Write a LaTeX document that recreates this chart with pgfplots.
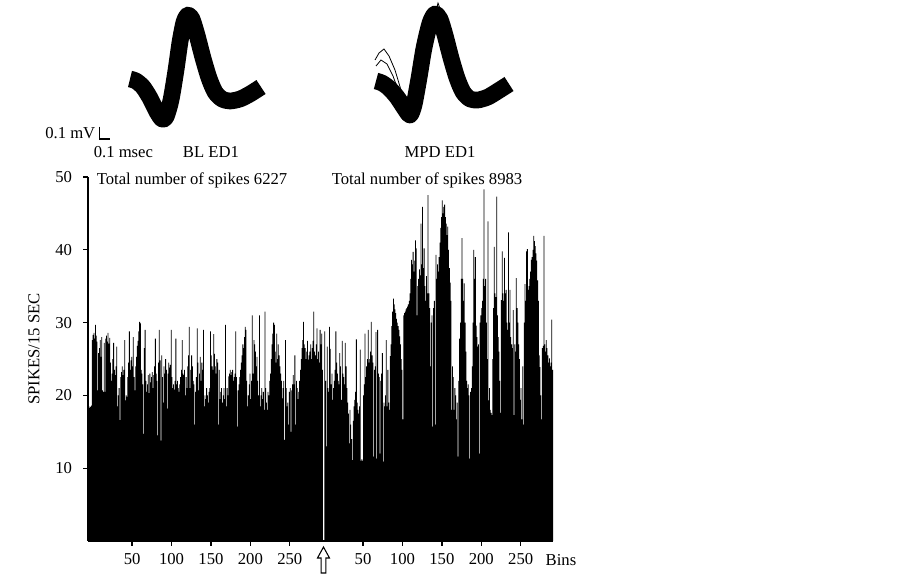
\documentclass[border=0pt]{standalone}
\usepackage{fontspec}
\setmainfont{Liberation Serif}
\usepackage{pgfplots}
\usepackage{pgfplotstable}
\pgfplotsset{compat=1.18}
\newcommand\f{\fontsize{12.5}{15}\selectfont}

% spikes per 15 s bin: baseline (299 bins), injection (0), MPD (290 bins), closing value
\pgfplotstableread[header=false,row sep=\\]{
18.4\\18.3\\18.5\\18.4\\18.6\\27.6\\28.3\\28.6\\27.8\\29.7\\
28.2\\27.4\\20.7\\25.8\\26.5\\27.6\\25.3\\28.0\\20.7\\20.5\\
27.2\\20.5\\27.8\\28.2\\27.4\\28.6\\27.1\\27.9\\24.5\\22.0\\
23.0\\25.0\\27.2\\23.5\\22.8\\24.0\\26.7\\18.5\\20.0\\21.0\\
16.6\\22.5\\23.2\\24.0\\22.8\\23.5\\27.6\\19.3\\20.0\\19.8\\
22.5\\24.5\\28.8\\23.5\\24.8\\25.3\\24.0\\28.0\\22.5\\20.7\\
24.0\\25.3\\26.8\\27.5\\28.8\\30.1\\29.9\\23.5\\23.0\\21.5\\
14.7\\26.5\\29.0\\22.0\\20.5\\21.5\\22.8\\20.3\\23.0\\21.8\\
22.5\\23.2\\21.0\\22.8\\24.0\\27.8\\23.0\\22.0\\14.5\\24.5\\
29.0\\24.8\\13.8\\25.5\\22.5\\19.0\\24.0\\23.0\\25.0\\23.5\\
18.2\\23.0\\24.5\\23.8\\24.2\\29.0\\22.5\\21.0\\21.5\\20.8\\
22.0\\27.8\\21.5\\22.0\\21.0\\20.5\\21.5\\22.5\\23.5\\27.6\\
23.0\\22.8\\23.5\\20.0\\22.5\\21.0\\24.0\\25.5\\29.4\\21.0\\
23.5\\25.5\\24.0\\22.0\\21.5\\16.0\\20.5\\22.5\\29.2\\24.5\\
20.7\\23.0\\25.3\\22.0\\24.5\\23.5\\29.0\\18.5\\20.0\\19.5\\
21.0\\20.0\\19.0\\20.5\\21.0\\28.8\\25.5\\24.0\\23.5\\28.4\\
25.7\\24.0\\23.0\\25.0\\24.5\\16.0\\23.5\\19.5\\20.5\\21.0\\
19.0\\20.0\\21.0\\19.5\\29.7\\18.5\\21.0\\20.0\\22.6\\23.0\\
23.5\\22.8\\23.2\\23.5\\22.0\\22.5\\23.0\\28.8\\22.5\\15.7\\
20.7\\21.5\\22.5\\23.5\\24.5\\25.5\\27.0\\26.5\\28.0\\29.4\\
29.0\\22.0\\18.5\\20.0\\21.5\\23.0\\19.5\\22.0\\31.0\\23.0\\
27.6\\27.0\\26.0\\24.0\\25.3\\22.0\\20.0\\31.0\\18.5\\20.0\\
21.0\\19.5\\20.5\\18.0\\31.5\\21.0\\19.0\\18.0\\20.5\\20.0\\
22.0\\23.0\\25.0\\27.0\\28.5\\30.0\\29.7\\26.0\\24.5\\28.5\\
25.0\\27.0\\25.5\\24.0\\23.0\\22.0\\19.6\\21.0\\22.0\\13.9\\
27.6\\21.0\\18.5\\19.0\\16.0\\20.5\\21.0\\15.0\\20.7\\21.5\\
22.8\\21.5\\25.5\\16.0\\22.0\\21.0\\19.5\\20.5\\22.0\\23.5\\
25.0\\26.5\\27.6\\30.1\\27.0\\26.5\\25.0\\26.0\\27.5\\24.9\\
25.5\\26.0\\27.0\\25.0\\26.5\\27.5\\31.5\\26.0\\25.5\\27.0\\
29.2\\25.0\\26.0\\24.5\\29.0\\27.0\\28.5\\23.5\\0\\
0\\
28.8\\22.0\\13.0\\26.7\\21.0\\20.5\\29.4\\26.4\\21.5\\23.0\\
19.4\\21.0\\22.0\\23.5\\28.8\\24.5\\23.0\\22.0\\21.5\\25.8\\
24.0\\19.4\\27.5\\23.0\\22.5\\21.5\\27.2\\24.0\\21.0\\19.0\\
17.5\\13.4\\18.0\\16.0\\14.0\\11.1\\16.5\\18.5\\19.4\\20.5\\
27.7\\19.0\\18.0\\17.5\\18.5\\26.3\\11.0\\11.2\\11.0\\20.0\\
21.5\\28.5\\22.5\\24.0\\25.0\\29.0\\24.5\\25.0\\26.0\\30.1\\
25.5\\24.5\\11.6\\23.5\\24.0\\28.7\\11.3\\29.0\\23.0\\22.5\\
12.0\\22.0\\23.0\\25.8\\10.9\\19.0\\18.5\\20.0\\27.6\\18.5\\
23.5\\19.0\\18.0\\25.4\\27.0\\29.5\\31.5\\33.3\\32.5\\31.8\\
31.3\\30.5\\30.0\\29.5\\29.0\\28.1\\27.0\\25.0\\23.5\\16.7\\
31.0\\31.3\\31.5\\31.8\\32.0\\32.2\\32.5\\33.0\\34.0\\36.0\\
38.6\\38.0\\39.7\\37.0\\38.5\\41.3\\40.2\\31.0\\35.0\\36.0\\
37.3\\36.5\\43.6\\38.0\\45.9\\37.5\\40.2\\35.0\\33.0\\36.4\\
34.0\\47.5\\34.0\\32.0\\24.0\\30.0\\31.0\\15.7\\32.0\\33.0\\
16.0\\39.3\\36.0\\38.0\\37.0\\39.0\\41.0\\43.0\\44.5\\46.8\\
45.0\\45.9\\46.2\\44.5\\43.6\\42.0\\43.2\\40.0\\37.5\\35.5\\
33.0\\18.0\\24.0\\22.5\\18.0\\21.0\\20.0\\16.7\\19.0\\11.6\\
22.0\\27.8\\30.0\\36.0\\41.6\\36.0\\33.0\\35.4\\30.0\\26.0\\
22.0\\21.0\\21.5\\20.0\\11.3\\20.5\\21.0\\24.0\\30.0\\40.0\\
36.0\\39.0\\29.6\\28.0\\26.7\\27.0\\12.0\\30.0\\31.0\\32.0\\
33.0\\36.0\\48.3\\35.0\\36.0\\30.0\\25.0\\43.9\\19.3\\21.0\\
18.0\\17.6\\17.3\\25.0\\32.0\\40.4\\34.0\\33.5\\47.3\\31.0\\
28.0\\26.0\\22.0\\17.6\\33.1\\39.8\\34.0\\33.0\\38.9\\34.0\\
34.5\\30.0\\29.0\\42.4\\30.0\\34.5\\28.0\\27.0\\26.5\\31.7\\
17.3\\27.0\\26.0\\36.1\\32.0\\30.0\\27.0\\25.0\\19.4\\21.0\\
16.7\\24.0\\16.0\\30.0\\35.3\\33.0\\39.8\\40.1\\34.5\\35.0\\
36.0\\37.0\\38.6\\39.0\\40.0\\41.9\\41.2\\40.5\\39.5\\38.5\\
35.8\\33.0\\25.5\\23.9\\20.0\\16.7\\26.5\\26.8\\41.9\\27.0\\
26.0\\27.6\\26.5\\25.5\\24.5\\25.1\\24.0\\24.5\\30.4\\23.5\\
23.5\\
}\spikes

\begin{document}
\begin{tikzpicture}
\useasboundingbox (0,0) rectangle (677.25pt,433.5pt);

% frame in image pixels: waveforms and annotations
\begin{axis}[
  at={(0pt,0pt)}, anchor=south west,
  scale only axis, width=677.25pt, height=433.5pt,
  xmin=0, xmax=903, ymin=0, ymax=578, y dir=reverse,
  hide axis, clip=false,
]
\addplot[black, line width=12.5pt, line join=round, smooth, tension=0.45] coordinates {
  (130,79) (136,81) (143,87) (150,98) (157,112) (162,119) (166,117)
  (171,100) (176,70) (180,42) (184,22) (188,15) (192,19) (197,35)
  (203,58) (209,78) (215,92) (222,99) (230,101) (240,99) (250,94) (261,87)};
\addplot[black, line width=12.5pt, line join=round, smooth, tension=0.45] coordinates {
  (376,81) (382,83) (389,88) (397,97) (405,109) (410,115) (414,105)
  (419,78) (424,48) (430,23) (435,14) (440,19) (445,35)
  (451,58) (457,78) (463,92) (470,99) (478,100) (488,97) (498,91) (509,84)};
\addplot[black, line width=0.6pt] coordinates {
  (375,60) (379,53) (384,49) (389,56) (395,70) (401,90) (407,108)};
\addplot[black, line width=0.6pt] coordinates {
  (376,66) (381,60) (387,64) (393,76) (400,95)};
\addplot[black, line width=0.6pt] coordinates {
  (428,30) (432,8) (435,16) (438,3) (442,14) (446,30)};

\draw[line width=0.9pt] (axis cs:99.3,126.7) -- (axis cs:99.3,139) -- (axis cs:110,139);
\node[font=\f, inner sep=0pt, anchor=west] at (axis cs:45,133) {0.1 mV};
\node[font=\f, inner sep=0pt, anchor=west] at (axis cs:93.5,152) {0.1 msec};
\node[font=\f, inner sep=0pt] at (axis cs:211,152) {BL ED1};
\node[font=\f, inner sep=0pt] at (axis cs:440,152) {MPD ED1};
\node[font=\f, inner sep=0pt, anchor=west] at (axis cs:96.5,180) {Total number of spikes 6227};
\node[font=\f, inner sep=0pt, anchor=west] at (axis cs:331.5,180) {Total number of spikes 8983};
\node[font=\f, inner sep=0pt, rotate=90] at (axis cs:34,349) {SPIKES/15 SEC};
\node[font=\f, inner sep=0pt] at (axis cs:561,560) {Bins};
\draw[line width=0.8pt, fill=white] (axis cs:323.5,547) -- (axis cs:329.5,558)
  -- (axis cs:325.8,558) -- (axis cs:325.8,573) -- (axis cs:321.2,573)
  -- (axis cs:321.2,558) -- (axis cs:317.5,558) -- cycle;
\end{axis}

% histogram
\begin{axis}[
  at={(66pt,27.75pt)}, anchor=south west,
  scale only axis, width=348.75pt, height=273pt,
  xmin=-6, xmax=584, ymin=0, ymax=50,
  axis lines*=left,
  axis line style={line width=1.5pt},
  ytick={10,20,30,40,50},
  xtick={50,100,150,200,250,343,393,443,493,543},
  xticklabels={50,100,150,200,250,50,100,150,200,250},
  tick align=outside, major tick length=3.5pt,
  tick style={black, line width=1pt},
  ticklabel style={font=\f},
  /pgf/number format/assume math mode=true,
  yticklabel style={xshift=-5pt},
  xticklabel style={yshift=-2pt},
]
\addplot[fill=black, draw=none, const plot mark left]
  table[x expr=\coordindex-6, y index=0] {\spikes} \closedcycle;
\end{axis}
\end{tikzpicture}
\end{document}
